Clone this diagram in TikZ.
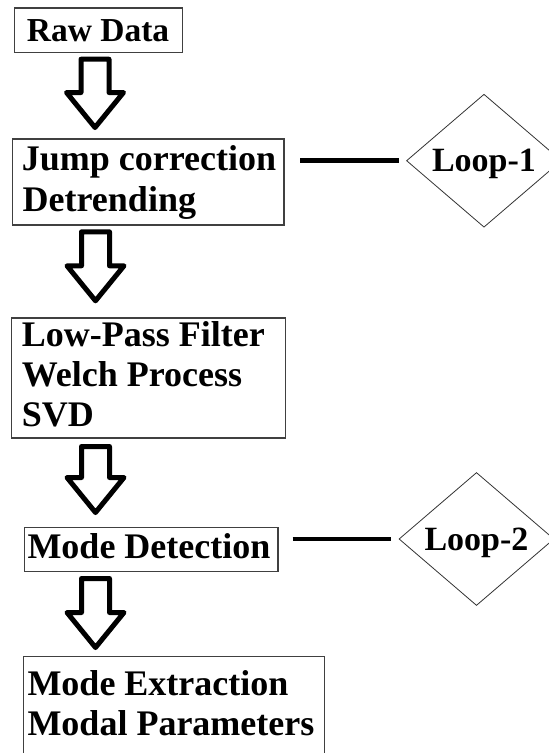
\documentclass[tikz,border=0pt]{standalone}
\usepackage{fontspec}
\setmainfont{Liberation Serif}
\usetikzlibrary{calc,shapes.geometric}
\tikzset{
  box/.style={draw=black!75, line width=1.2pt, rectangle, inner sep=0pt, anchor=north west},
  txt/.style={anchor=base west, inner sep=0pt, font=\fontsize{36}{41}\selectfont\bfseries},
  looptxt/.style={draw=black!80, line width=0.8pt, shape=diamond, inner sep=0pt,
    minimum width=155pt, minimum height=133pt, text depth=0pt,
    font=\fontsize{34}{40}\selectfont\bfseries},
  link/.style={line width=4.5pt, black},
  harrow/.style={line width=5pt, black, line join=round}
}
\newcommand\hollowarrow[2]{%
  \draw[harrow] ($(#1)+(-14,0)$) -- ($(#1)+(14,0)$) -- ($(#2)+(14,-35)$)
    -- ($(#2)+(28.5,-35)$) -- (#2) -- ($(#2)+(-28.5,-35)$)
    -- ($(#2)+(-14,-35)$) -- cycle;}
\begin{document}
\begin{tikzpicture}[x=1pt,y=-1pt]
\useasboundingbox (0,0) rectangle (549,753);
\clip (0,0) rectangle (549,753);
% boxes
\node[box, minimum width=167.7pt, minimum height=44.4pt] (raw) at (14,7.3) {};
\node[box, minimum width=271.6pt, minimum height=86pt] (jump) at (11.7,138.3) {};
\node[box, minimum width=274pt, minimum height=120pt] (lowpass) at (11,317.3) {};
\node[box, minimum width=253.3pt, minimum height=44.3pt] (detect) at (24,526.7) {};
\node[box, minimum width=301.3pt, minimum height=120pt] (extract) at (22.7,656) {};
% texts
\node[txt, font=\fontsize{33.5}{40}\selectfont\bfseries] (trw) at (26.7,41.7) {Raw Data};
\node[txt] (tj1) at (21.7,170.7) {Jump correction};
\node[txt] (tj2) at (22.5,211.7) {Detrending};
\node[txt] (tl1) at (21.7,346.7) {Low-Pass Filter};
\node[txt] (tl2) at (21.7,386.7) {Welch Process};
\node[txt] (tl3) at (21.7,426.7) {SVD};
\node[txt] (td1) at (27.3,558.3) {Mode Detection};
\node[txt] (te1) at (27.3,695) {Mode Extraction};
\node[txt] (te2) at (27.3,735) {Modal Parameters};
% loops
\node[looptxt] (loop1) at (484,160.7) {Loop-1};
\node[looptxt] (loop2) at (476.5,539) {Loop-2};
\draw[link, shorten <=15.7pt, shorten >=6.7pt] (jump.east |- loop1.west) -- (loop1.west);
\draw[link, shorten <=14pt, shorten >=7.5pt] (detect.east |- loop2.west) -- (loop2.west);
% hollow arrows
\coordinate (a1s) at (95,59.2);  \coordinate (a1e) at (95,127.5);
\coordinate (a2s) at (95.5,231.8); \coordinate (a2e) at (95.5,300.8);
\coordinate (a3s) at (95.5,446.5); \coordinate (a3e) at (95.5,512.5);
\coordinate (a4s) at (95.5,578.5); \coordinate (a4e) at (95.5,647.5);
\hollowarrow{a1s}{a1e}
\hollowarrow{a2s}{a2e}
\hollowarrow{a3s}{a3e}
\hollowarrow{a4s}{a4e}
\end{tikzpicture}
\end{document}
